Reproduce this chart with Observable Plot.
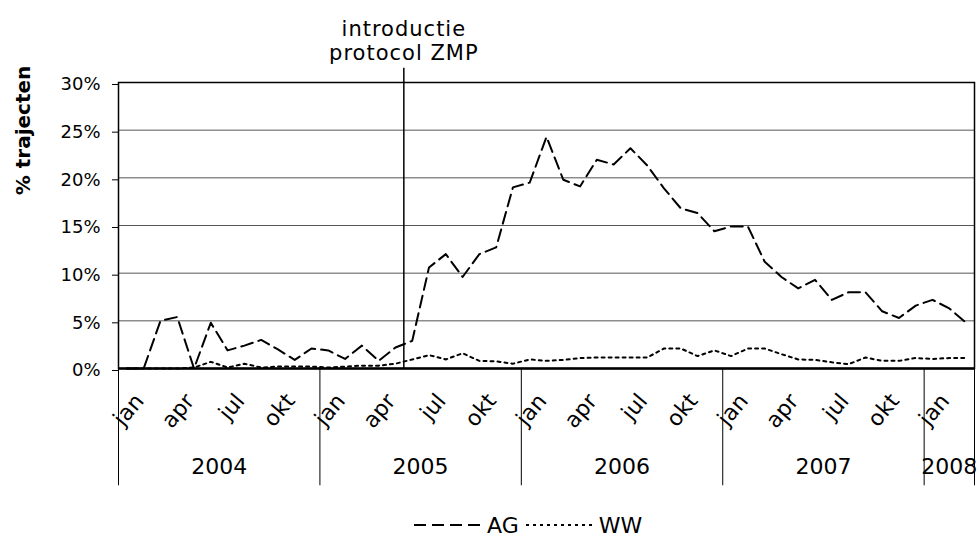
<!DOCTYPE html>
<html>
<head>
<meta charset="utf-8">
<script src="https://cdn.jsdelivr.net/npm/d3@7"></script>
<script src="https://cdn.jsdelivr.net/npm/@observablehq/plot@0.6"></script>
<style>
  html, body { margin: 0; padding: 0; background: #fff; }
  body { font-family: "DejaVu Sans", sans-serif; color: #000; width: 980px; height: 539px; overflow: hidden; }
  #chart svg { display: block; }
  #legend { display: flex; align-items: center; height: 34px; margin-top: 3px; margin-left: 414px; font-size: 22px; }
  #legend svg { display: block; }
  #legend span { margin: 0 7px 0 3px; }
</style>
</head>
<body>
<div id="chart"></div>
<div id="legend"></div>
<script>
// ---- data (Jan 2004 – Mar 2008, monthly), values in % ----
const monthNames = ["jan","feb","mrt","apr","mei","jun","jul","aug","sep","okt","nov","dec"];
const labelMonths = ["jan","apr","jul","okt"];
const years = ["2004","2005","2006","2007","2008"];
const seriesNames = ["AG","WW"];
const agValues = [
  0, 0, 5.0, 5.4, 0, 4.8, 1.9, 2.4, 3.0, 2.0, 0.9, 2.1,          // 2004
  1.9, 1.0, 2.4, 0.8, 2.2, 2.9, 10.6, 12.0, 9.6, 12.0, 12.7, 19.0, // 2005
  19.5, 24.3, 19.8, 19.1, 21.9, 21.4, 23.1, 21.3, 18.9, 16.8, 16.3, 14.4, // 2006
  14.9, 14.9, 11.2, 9.6, 8.4, 9.3, 7.2, 8.0, 8.0, 6.0, 5.3, 6.6,   // 2007
  7.2, 6.3, 4.8                                                    // 2008
];
const wwValues = [
  0, 0, 0, 0, 0.1, 0.7, 0.1, 0.5, 0.1, 0.2, 0.2, 0.2,             // 2004
  0.1, 0.2, 0.3, 0.3, 0.5, 0.95, 1.4, 0.95, 1.6, 0.8, 0.75, 0.5,   // 2005
  0.95, 0.8, 0.9, 1.1, 1.15, 1.15, 1.15, 1.15, 2.1, 2.1, 1.3, 1.9, // 2006
  1.3, 2.1, 2.1, 1.5, 0.95, 0.9, 0.65, 0.45, 1.15, 0.8, 0.8, 1.1,  // 2007
  1.0, 1.1, 1.1                                                    // 2008
];
const yTicks = [0, 0.05, 0.10, 0.15, 0.20, 0.25, 0.30];
const yTitle = "% trajecten";
const introLabel = "introductie\nprotocol ZMP";
const introAt = { year: "2005", month: "jun" }; // line drawn at start of June 2005
const seriesDash = { AG: "12,6", WW: "3,4" };

// ---- derived tables ----
const n = agValues.length;
const cat = d3.range(n).map(i => ({ i, month: monthNames[i % 12], year: years[Math.floor(i / 12)] }));
const agRows = cat.map(c => ({ ...c, series: seriesNames[0], value: agValues[c.i] / 100 }));
const wwRows = cat.map(c => ({ ...c, series: seriesNames[1], value: wwValues[c.i] / 100 }));
const monthLabels = cat.filter(c => labelMonths.includes(c.month));
const yearStarts = cat.filter(c => c.month === "jan").map(c => c.i).concat([n]);
const yearLabels = years.map((y, k) => ({ year: y, mid: (yearStarts[k] + yearStarts[k + 1]) / 2 }));
const introIndex = cat.find(c => c.year === introAt.year && c.month === introAt.month).i;
const center = d => d.i + 0.5;
const fmt = d3.format(".0%");

const chart = Plot.plot({
  width: 980,
  height: 505,
  marginLeft: 118,
  marginRight: 6,
  marginTop: 82,
  marginBottom: 137,
  style: { fontFamily: "DejaVu Sans, sans-serif", fontSize: "18px", color: "#000", background: "#fff", overflow: "visible" },
  x: { domain: [0, n], axis: null },
  y: { domain: [0, 0.30], axis: null },
  marks: [
    Plot.gridY(yTicks.slice(1, -1), { stroke: "#555", strokeOpacity: 1, strokeWidth: 1 }),
    Plot.axisY(yTicks, { tickSize: 6, tickPadding: 12, tickFormat: fmt, fontSize: 18, stroke: "#000", label: null, dy: 2 }),
    Plot.line(wwRows, { x: center, y: "value", stroke: "#000", strokeWidth: 2, strokeDasharray: seriesDash.WW }),
    Plot.line(agRows, { x: center, y: "value", stroke: "#000", strokeWidth: 2, strokeDasharray: seriesDash.AG }),
    Plot.frame({ stroke: "#000", strokeWidth: 1.5 }),
    Plot.ruleY([0], { stroke: "#000", strokeWidth: 2.5 }),
    Plot.ruleX([introIndex], { y1: 0, y2: 0.315, stroke: "#000", strokeWidth: 1.5 }),
    Plot.text([introLabel], { x: introIndex, frameAnchor: "top", dy: -23, lineAnchor: "bottom", lineHeight: 1.1, fontSize: 21 }),
    Plot.ruleX(yearStarts, { y1: 0, y2: -0.123, stroke: "#000", strokeWidth: 1 }),
    Plot.text(monthLabels, { x: center, text: "month", frameAnchor: "bottom", textAnchor: "end", rotate: -50, dx: 18, dy: 33, fontSize: 22 }),
    Plot.text(yearLabels, { x: "mid", text: "year", frameAnchor: "bottom", dy: 105, fontSize: 22 }),
    Plot.text([yTitle], { frameAnchor: "left", textAnchor: "middle", rotate: -90, dx: -95, dy: -95, fontWeight: "bold", fontSize: 20 })
  ]
});
d3.select(chart).selectAll("text")
  .filter(function () { return this.textContent.includes("ZMP"); })
  .attr("letter-spacing", "1px");
document.getElementById("chart").appendChild(chart);

// ---- legend ----
const legend = d3.select("#legend");
seriesNames.forEach(name => {
  const s = legend.append("svg").attr("width", 70).attr("height", 10);
  s.append("line").attr("x1", 0).attr("x2", 70).attr("y1", 5).attr("y2", 5)
    .attr("stroke", "#000").attr("stroke-width", 2).attr("stroke-dasharray", seriesDash[name]);
  legend.append("span").text(name);
});
</script>
</body>
</html>
